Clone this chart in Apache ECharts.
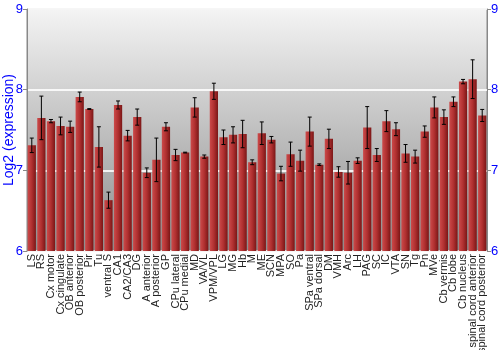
<!DOCTYPE html>
<html><head><meta charset="utf-8">
<script src="https://cdn.jsdelivr.net/npm/echarts@6/dist/echarts.min.js"></script>
<style>html,body{margin:0;padding:0;background:#fff}#c{width:500px;height:350px}</style>
</head><body><div id="c"></div>
<script>
const categories = ["LS","RS","Cx motor","Cx cingulate","OB anterior","OB posterior","Pir","Tu","ventral S","CA1","CA2/CA3","DG","A anterior","A posterior","GP","CPu lateral","CPu medial","MD","VA/VL","VPM/VPL","LG","MG","Hb","M","ME","SCN","MPA","SO","Pa","SPa ventral","SPa dorsal","DM","VMH","Arc","LH","PAG","SC","IC","VTA","SN","Tg","Pn","MVe","Cb vermis","Cb lobe","Cb nucleus","spinal cord anterior","spinal cord posterior"];
const values = [7.31,7.65,7.61,7.55,7.54,7.91,7.76,7.29,6.63,7.81,7.43,7.66,6.97,7.13,7.54,7.19,7.22,7.78,7.17,7.98,7.41,7.44,7.45,7.10,7.46,7.38,6.96,7.20,7.12,7.48,7.07,7.39,6.98,6.97,7.12,7.53,7.19,7.61,7.51,7.21,7.17,7.48,7.78,7.66,7.85,8.10,8.13,7.68];
const errors = [0.09,0.27,0.02,0.11,0.07,0.06,0.005,0.25,0.10,0.05,0.065,0.10,0.06,0.27,0.05,0.07,0.005,0.12,0.02,0.10,0.09,0.10,0.17,0.03,0.14,0.04,0.09,0.15,0.13,0.18,0.01,0.12,0.065,0.14,0.035,0.26,0.08,0.13,0.08,0.11,0.08,0.07,0.13,0.09,0.06,0.027,0.24,0.075];
const yTicks = [6,7,8,9];

const chart = echarts.init(document.getElementById('c'), null, {renderer:'canvas'});
const blue = '#0000ff';
const errData = values.map((v,i)=>[i, v-errors[i], v+errors[i]]);
chart.setOption({
  animation:false,
  grid:{left:27,right:13,top:9,bottom:99,outerBoundsMode:'none',containLabel:false,show:true,borderColor:'#888',borderWidth:1,
    backgroundColor:new echarts.graphic.LinearGradient(0,0,0,1,[{offset:0,color:'#f4f4f4'},{offset:1,color:'#8c8c8c'}])},
  xAxis:{type:'category',data:categories,
    axisLine:{show:false},axisTick:{show:false},
    axisLabel:{rotate:90,interval:0,fontSize:11,color:'#222',fontFamily:'Liberation Sans, Arial',margin:3}},
  yAxis:[
    {type:'value',min:yTicks[0],max:yTicks[yTicks.length-1],interval:1,position:'left',
     name:'Log2 (expression)',nameLocation:'middle',nameGap:11,nameRotate:90,nameMoveOverlap:false,
     nameTextStyle:{color:blue,fontSize:14,fontFamily:'Liberation Sans, Arial'},
     axisLine:{show:true,lineStyle:{color:'#888'}},axisTick:{show:true,length:4,lineStyle:{color:'#888'}},
     axisLabel:{color:blue,fontSize:13,fontFamily:'Liberation Sans, Arial',margin:4},
     splitLine:{show:true,lineStyle:{color:'rgba(255,255,255,0.85)',width:2}}},
    {type:'value',min:yTicks[0],max:yTicks[yTicks.length-1],interval:1,position:'right',
     axisLine:{show:true,lineStyle:{color:'#888'}},axisTick:{show:true,length:4,lineStyle:{color:'#888'}},
     axisLabel:{color:blue,fontSize:13,fontFamily:'Liberation Sans, Arial',margin:4},
     splitLine:{show:false}}
  ],
  series:[
    {type:'bar',data:values,barCategoryGap:'14%',
     itemStyle:{color:new echarts.graphic.LinearGradient(0,0,1,0,[{offset:0,color:'#cc4a4a'},{offset:0.5,color:'#b03030'},{offset:1,color:'#7a1616'}])}},
    {type:'custom',data:errData,z:10,
     renderItem:function(params,api){
       const x=api.value(0);
       const lo=api.coord([x,api.value(1)]);
       const hi=api.coord([x,api.value(2)]);
       const cx=lo[0], w=2;
       const st={stroke:'#000',lineWidth:1};
       return {type:'group',children:[
         {type:'line',shape:{x1:cx,y1:hi[1],x2:cx,y2:lo[1]},style:st},
         {type:'line',shape:{x1:cx-w,y1:hi[1],x2:cx+w,y2:hi[1]},style:st},
         {type:'line',shape:{x1:cx-w,y1:lo[1],x2:cx+w,y2:lo[1]},style:st}
       ]};
     }}
  ]
});
</script></body></html>
